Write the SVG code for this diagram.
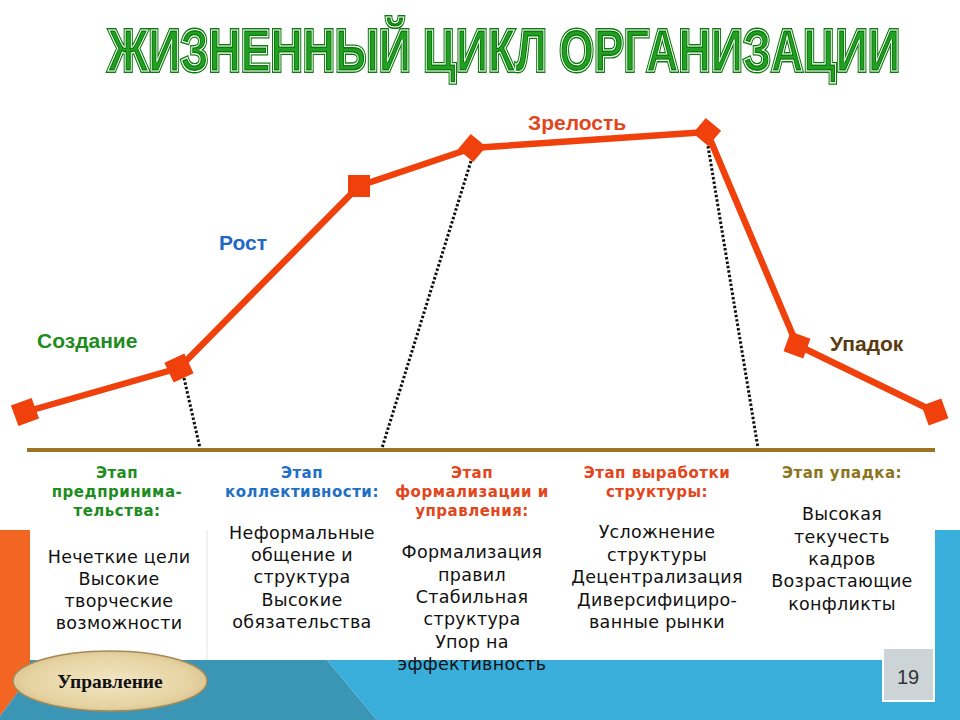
<svg xmlns="http://www.w3.org/2000/svg" width="960" height="720" viewBox="0 0 960 720">
<defs>
<style>
.ttl{font-family:"Liberation Sans",Arial,sans-serif;font-weight:bold;font-size:60px}
.lbl{font-family:"Liberation Sans",Arial,sans-serif;font-weight:bold;font-size:21px}
.hd{font-family:"DejaVu Sans",Verdana,sans-serif;font-weight:bold;font-size:15px;letter-spacing:0.5px;text-anchor:middle}
.bd{font-family:"DejaVu Sans",Verdana,sans-serif;font-size:17.5px;letter-spacing:0.3px;text-anchor:middle;fill:#111}
.mk{fill:#f0400c}
</style>
<radialGradient id="pap" cx="50%" cy="50%" r="60%">
<stop offset="0" stop-color="#f3e6c4"/>
<stop offset="0.7" stop-color="#e6d3a2"/>
<stop offset="1" stop-color="#d2b882"/>
</radialGradient>
</defs>
<rect width="960" height="720" fill="#ffffff"/>
<!-- background -->
<polygon points="0,530 30,530 30,676 0,716" fill="#f26522"/>
<polygon points="30,660 327,660 377,720 0,720 0,716 30,676" fill="#3a96b4"/>
<polygon points="327,660 935,660 935,530 960,530 960,720 377,720" fill="#3aaedb"/>
<line x1="207" y1="530" x2="207" y2="660" stroke="#dfe8ec" stroke-width="1"/>
<!-- title -->
<g id="title" transform="translate(504,71) scale(0.745,1)">
<text class="ttl" x="0" y="0" text-anchor="middle" fill="#22a022" stroke="#0d7a0d" stroke-width="4">ЖИЗНЕННЫЙ ЦИКЛ ОРГАНИЗАЦИИ</text>
<text class="ttl" x="0" y="0" text-anchor="middle" fill="none" stroke="#ffffff" stroke-width="1.2">ЖИЗНЕННЫЙ ЦИКЛ ОРГАНИЗАЦИИ</text>
</g>
<!-- baseline axis -->
<line x1="27" y1="450" x2="935" y2="450" stroke="#9a7424" stroke-width="4"/>
<!-- connectors -->
<g id="connectors">
<polyline points="25,412 179,368 359,186 472,148 707,132 797,345 935,412" fill="none" stroke="#f0400c" stroke-width="6.5" stroke-linejoin="round"/>
<g stroke="#111" stroke-width="3" stroke-dasharray="2.5,2" fill="none">
<line x1="184" y1="378" x2="200" y2="448"/>
<line x1="471" y1="161" x2="382" y2="448"/>
<line x1="708" y1="146" x2="758" y2="448"/>
</g>
</g>
<!-- markers -->
<g id="points">
<rect class="mk" x="-11" y="-11" width="22" height="22" transform="translate(25,412) rotate(-20)"/>
<rect class="mk" x="-11" y="-11" width="22" height="22" transform="translate(179,368) rotate(-25)"/>
<rect class="mk" x="-11" y="-11" width="22" height="22" transform="translate(359,186)"/>
<rect class="mk" x="-10" y="-10" width="20" height="20" transform="translate(472,148) rotate(40)"/>
<rect class="mk" x="-10" y="-10" width="20" height="20" transform="translate(707,132) rotate(40)"/>
<rect class="mk" x="-10.5" y="-10.5" width="21" height="21" transform="translate(797,345) rotate(20)"/>
<rect class="mk" x="-10.5" y="-10.5" width="21" height="21" transform="translate(935,412) rotate(-20)"/>
</g>
<!-- stage labels -->
<g id="stage-labels">
<text class="lbl" x="37" y="348" fill="#1e8c1e">Создание</text>
<text class="lbl" x="219" y="250" fill="#2367c6">Рост</text>
<text class="lbl" x="528" y="130" fill="#e2461c">Зрелость</text>
<text class="lbl" x="830" y="351" fill="#5a3b12">Упадок</text>
</g>
<!-- columns -->
<g id="col1">
<text class="hd" fill="#1e8c1e"><tspan x="117" y="478">Этап</tspan><tspan x="117" y="497">предпринима-</tspan><tspan x="117" y="516">тельства:</tspan></text>
<text class="bd"><tspan x="119" y="563">Нечеткие цели</tspan><tspan x="119" y="585">Высокие</tspan><tspan x="119" y="607">творческие</tspan><tspan x="119" y="629">возможности</tspan></text>
</g>
<g id="col2">
<text class="hd" fill="#1f6fc5"><tspan x="302" y="478">Этап</tspan><tspan x="302" y="497">коллективности:</tspan></text>
<text class="bd"><tspan x="302" y="539">Неформальные</tspan><tspan x="302" y="561">общение и</tspan><tspan x="302" y="583">структура</tspan><tspan x="302" y="606">Высокие</tspan><tspan x="302" y="628">обязательства</tspan></text>
</g>
<g id="col3">
<text class="hd" fill="#e2461c"><tspan x="472" y="478">Этап</tspan><tspan x="472" y="497">формализации и</tspan><tspan x="472" y="516">управления:</tspan></text>
<text class="bd"><tspan x="472" y="558">Формализация</tspan><tspan x="472" y="581">правил</tspan><tspan x="472" y="603">Стабильная</tspan><tspan x="472" y="625">структура</tspan><tspan x="472" y="648">Упор на</tspan><tspan x="472" y="670">эффективность</tspan></text>
</g>
<g id="col4">
<text class="hd" fill="#e2461c"><tspan x="657" y="478">Этап выработки</tspan><tspan x="657" y="497">структуры:</tspan></text>
<text class="bd"><tspan x="657" y="538">Усложнение</tspan><tspan x="657" y="561">структуры</tspan><tspan x="657" y="583">Децентрализация</tspan><tspan x="657" y="606">Диверсифициро-</tspan><tspan x="657" y="628">ванные рынки</tspan></text>
</g>
<g id="col5">
<text class="hd" fill="#8b7520"><tspan x="842" y="478">Этап упадка:</tspan></text>
<text class="bd"><tspan x="842" y="520">Высокая</tspan><tspan x="842" y="543">текучесть</tspan><tspan x="842" y="565">кадров</tspan><tspan x="842" y="587">Возрастающие</tspan><tspan x="842" y="610">конфликты</tspan></text>
</g>
<!-- management ellipse -->
<g id="management">
<ellipse cx="110" cy="681" rx="97" ry="30" fill="url(#pap)" stroke="#a58a58" stroke-width="1.5"/>
<text x="110" y="688" text-anchor="middle" font-family="'Liberation Serif','Times New Roman',serif" font-weight="bold" font-size="19.5" fill="#111">Управление</text>
</g>
<!-- page number -->
<g id="page-number">
<rect x="883" y="648" width="51" height="53" fill="#ccd4d7" stroke="#ffffff" stroke-width="2"/>
<text x="908" y="684" text-anchor="middle" font-family="'Liberation Sans',Arial,sans-serif" font-size="20" fill="#333">19</text>
</g>
</svg>
